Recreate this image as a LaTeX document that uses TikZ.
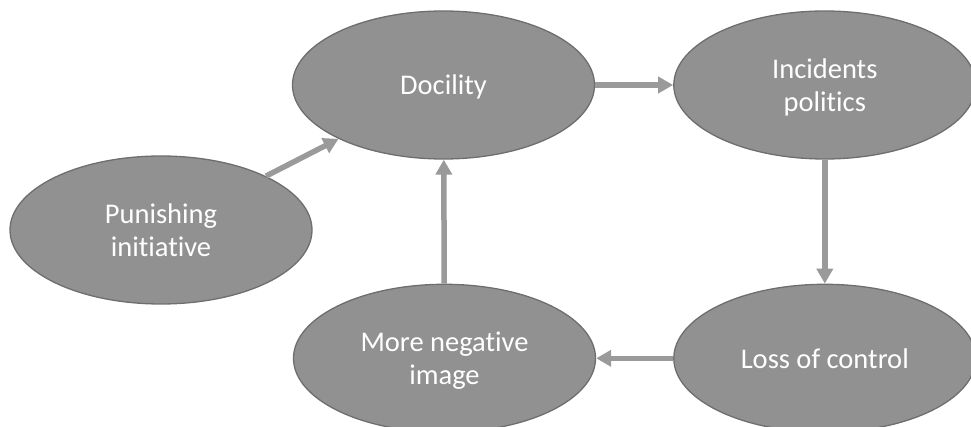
\documentclass[tikz,border=0pt]{standalone}
\usepackage{fontspec}
\setmainfont{Carlito}[Ligatures=NoCommon]
\usepackage{xcolor}
\usetikzlibrary{arrows.meta,positioning,shapes.geometric}
\definecolor{ellfill}{HTML}{919191}
\definecolor{elldraw}{HTML}{6E6E6E}
\definecolor{arrcol}{HTML}{9A9A9A}

\begin{document}
\begin{tikzpicture}[x=1pt, y=-1pt,
  state/.style={ellipse, draw=elldraw, line width=1.3pt, fill=ellfill, inner sep=0pt,
    minimum width=302pt, minimum height=148pt, align=center, text=white, text depth=0pt,
    font=\fontsize{28.5}{33}\selectfont},
  link/.style={draw=arrcol, line width=5.5pt, -{Triangle[length=15pt,width=16pt]}}]
\useasboundingbox (0,0) rectangle (971,427);
\clip (0,0) rectangle (971,427);
\node[state] (doc) at (443.5,85) {Docility};
\node[state, right=78pt of doc] (inc) {Incidents\\politics};
\node[state, below=124pt of inc] (loss) {Loss of control};
\node[state, left=77pt of loss] (neg) {More negative\\image};
\node[state] (pun) at (161,230) {Punishing\\initiative};
\draw[link] (pun) -- (doc);
\draw[link] (doc) -- (inc);
\draw[link] (inc) -- (loss);
\draw[link] (loss) -- (neg);
\draw[link] (neg) -- (doc);
\end{tikzpicture}
\end{document}
